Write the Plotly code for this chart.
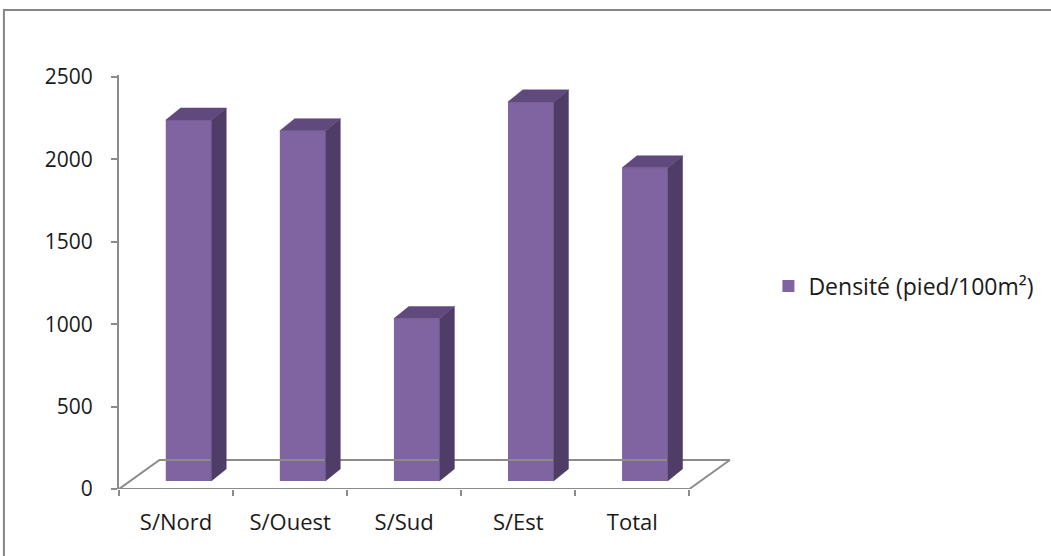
import plotly.graph_objects as go

# Densité par secteur
categories = ["S/Nord", "S/Ouest", "S/Sud", "S/Est", "Total"]
densite = [2190, 2125, 985, 2300, 1900]
series_name = "Densité (pied/100m²)"
y_ticks = [0, 500, 1000, 1500, 2000, 2500]

# Oblique projection used to fake the 3D column look (data units)
BAR_OFFSET_X = 0.11     # shift of the column front face from the category centre
BAR_BASE = 49           # lift of the column base (front face sits in the middle of the floor)
BAR_W = 0.40
DEPTH_X = 0.13
DEPTH_Y = 73
FLOOR_DX = 0.355
FLOOR_DY = 176

FRONT = "#8064A2"
TOP = "#604A7D"
SIDE = "#4F3D67"
GRID = "#8C8C8C"

xs = list(range(len(categories)))

fig = go.Figure()

# floor outline
n = len(categories)
fig.add_trace(go.Scatter(
    x=[-0.5, n - 0.5, n - 0.5 + FLOOR_DX, -0.5 + FLOOR_DX, -0.5],
    y=[0, 0, FLOOR_DY, FLOOR_DY, 0],
    mode="lines", line=dict(color=GRID, width=2),
    hoverinfo="skip", showlegend=False))

# side and top faces of each column
side_x, side_y, top_x, top_y = [], [], [], []
for x, v in zip(xs, densite):
    left = x + BAR_OFFSET_X - BAR_W / 2
    right = x + BAR_OFFSET_X + BAR_W / 2
    b, t = BAR_BASE, BAR_BASE + v
    side_x += [right, right + DEPTH_X, right + DEPTH_X, right, right, None]
    side_y += [b, b + DEPTH_Y, t + DEPTH_Y, t, b, None]
    top_x += [left, left + DEPTH_X, right + DEPTH_X, right, left, None]
    top_y += [t, t + DEPTH_Y, t + DEPTH_Y, t, t, None]

fig.add_trace(go.Scatter(x=side_x, y=side_y, fill="toself", fillcolor=SIDE,
                         mode="lines", line=dict(color=SIDE, width=0.5),
                         hoverinfo="skip", showlegend=False))
fig.add_trace(go.Scatter(x=top_x, y=top_y, fill="toself", fillcolor=TOP,
                         mode="lines", line=dict(color=TOP, width=0.5),
                         hoverinfo="skip", showlegend=False))

# front faces
fig.add_trace(go.Bar(
    x=[x + BAR_OFFSET_X for x in xs], y=densite, base=BAR_BASE, width=BAR_W,
    marker=dict(color=FRONT, line=dict(width=0)), name=series_name,
    showlegend=True))

FONT = "Open Sans"
TEXT = "#1a1a1a"
L, T, B = 119, 75, 67
plot_w = (689 - 119) / n * (n - 0.5 + 0.4 + 0.5)
R = 1051 - L - plot_w
plot_h = 556 - T - B

fig.update_layout(
    width=1051, height=556,
    margin=dict(l=L, r=R, t=T, b=B, pad=0),
    paper_bgcolor="white", plot_bgcolor="white",
    font=dict(family=FONT, size=20, color=TEXT),
    barmode="overlay",
    showlegend=True,
    legend=dict(x=(768 - L) / plot_w, y=(489 - 286) / plot_h,
                xanchor="left", yanchor="middle",
                font=dict(family=FONT, size=23, color=TEXT),
                bgcolor="rgba(0,0,0,0)", itemwidth=30),
    xaxis=dict(range=[-0.5, n - 0.5 + 0.4], tickmode="array", tickvals=xs,
               ticktext=categories, ticks="", showline=False, showgrid=False,
               zeroline=False, ticklabelstandoff=18,
               tickfont=dict(family=FONT, size=22, color=TEXT),
               minor=dict(ticks="outside", tick0=-0.5, dtick=1, ticklen=6,
                          tickcolor=GRID, tickwidth=2, showgrid=False)),
    yaxis=dict(range=[0, 2500 + (77 - T) / (412 / 2500)], tickmode="array",
               tickvals=y_ticks, ticks="outside", ticklen=6, tickwidth=2,
               tickcolor=GRID, showline=True, linecolor=GRID, linewidth=2,
               showgrid=False, zeroline=False, ticklabelstandoff=14,
               tickfont=dict(family=FONT, size=21, color=TEXT)),
    shapes=[dict(type="rect", xref="paper", yref="paper",
                 x0=(4 - L) / plot_w, x1=(1070 - L) / plot_w,
                 y0=(489 - 580) / plot_h, y1=(489 - 10) / plot_h,
                 line=dict(color="#868686", width=2), fillcolor="rgba(0,0,0,0)",
                 layer="below")],
)

fig.write_html("out.html")
